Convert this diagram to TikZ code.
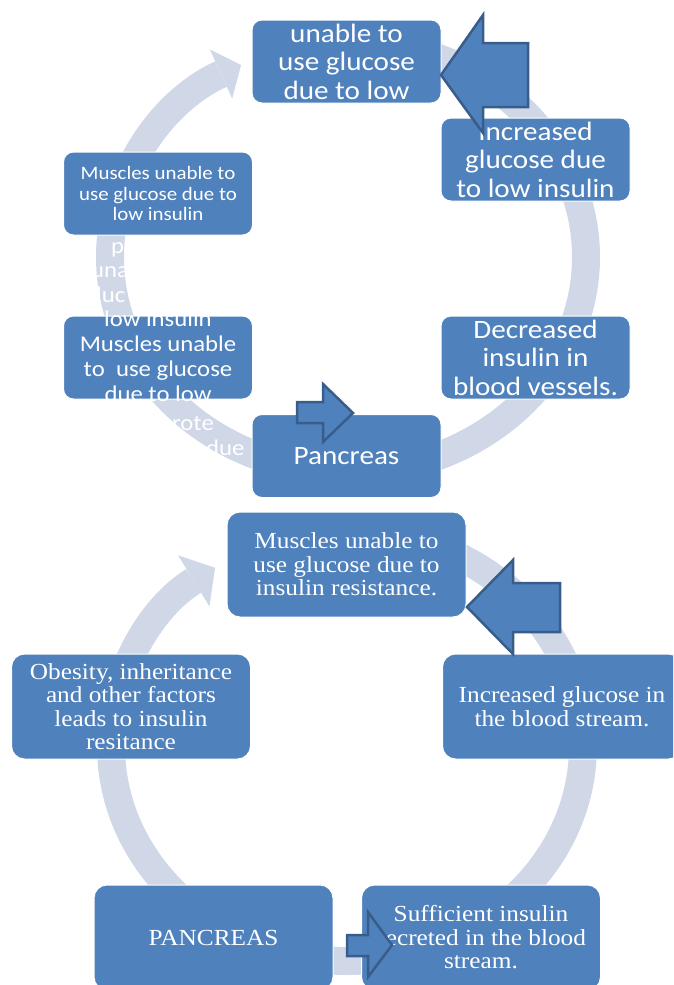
\documentclass[tikz,border=0pt]{standalone}
\usepackage{fontspec}
\usepackage{xcolor}
\usetikzlibrary{arrows.meta}

\newfontfamily\calfont[FakeStretch=1.1]{Carlito}
\newfontfamily\timesfont[FakeStretch=1.1]{Liberation Serif}

\definecolor{boxblue}{HTML}{4F81BD}
\definecolor{ringgray}{HTML}{D0D8E8}
\definecolor{edgeblue}{HTML}{385D8A}

\begin{document}
\begin{tikzpicture}[
  x=1pt, y=1pt,
  line join=round,
  topbox/.style={rectangle, rounded corners=10pt, fill=boxblue, draw=white,
    line width=1pt, text=white, align=center, inner sep=0pt,
    minimum width=189pt, minimum height=83pt,
    font=\calfont\fontsize{26.5}{28.5}\selectfont},
  lowbox/.style={rectangle, rounded corners=13pt, fill=boxblue, draw=white,
    line width=1pt, text=white, align=center, inner sep=0pt,
    minimum width=239pt, minimum height=105pt,
    font=\timesfont\fontsize{23}{23.5}\selectfont},
  ring/.style={color=ringgray, line width=28pt},
  blockarrow/.style={fill=boxblue, draw=edgeblue, line width=2.5pt, line join=miter},
  spill/.style={text=white, inner sep=0pt, align=center,
    font=\calfont\fontsize{22.5}{25}\selectfont}
]
  \useasboundingbox (0,0) rectangle (673,-985);
  \clip (0,0) rectangle (673,-985);

  % Upper cycle
  \draw[ring, -{Triangle[length=22pt,width=54pt,line width=0pt]}]
    (348,-42) arc[start angle=90, end angle=-243.3, x radius=238, y radius=215];

  \node[topbox] (unable) at (346.5,-61.5) {unable to\\use glucose\\due to low};
  \node[topbox] (incgl)  at (535.5,-159.5) {Increased\\glucose due\\to low insulin};
  \node[topbox] (decins) at (535.5,-357.5) {Decreased\\insulin in\\blood vessels.};
  \node[topbox] (panc)   at (346.5,-456) {Pancreas};
  \node[topbox] (lowbox) at (158,-357.5) {};
  \node[topbox, font=\calfont\fontsize{19}{20.5}\selectfont] (muscle) at (158,-193.5)
    {Muscles unable to\\use glucose due to\\low insulin};

  % text running out of the left box
  \node[spill] (lowtxt) at (158,-356.7) {low insulin\\Muscles unable\\to\ \ use glucose\\due to low};
  \node[spill, anchor=base west] (fragp)   at (111,-253) {p};
  \node[spill, anchor=base west] (fraguna) at (91,-277)  {una};
  \node[spill, anchor=base west] (fragluc) at (96,-302)  {luc};
  \node[spill, anchor=base west] (fragrot) at (172,-430) {rote};
  \node[spill, anchor=base west] (fragdue) at (206,-455) {due};

  \draw[blockarrow] (441,-75) -- (483,-15) -- (483,-43) -- (528,-43)
    -- (528,-107) -- (483,-107) -- (483,-133) -- cycle;
  \draw[blockarrow] (297,-402) -- (323,-402) -- (323,-384) -- (353,-413)
    -- (323,-442) -- (323,-423) -- (297,-423) -- cycle;

  % Lower cycle
  \draw[ring, -{Triangle[length=25pt,width=60pt,line width=0pt]}]
    (347,-531) arc[start angle=90, end angle=-236, x radius=236, y radius=215];

  \node[lowbox] (resist) at (346.5,-564.5) {Muscles unable to\\use glucose due to\\insulin resistance.};
  \node[lowbox] (obese)  at (131,-706.5) {Obesity, inheritance\\and other factors\\leads to insulin\\resitance};
  \node[lowbox] (incbs)  at (562,-706.5) {Increased glucose in\\the blood stream.};
  \node[lowbox] (pancr)  at (213.5,-937.5) {PANCREAS};
  \node[lowbox] (suff)   at (481,-937.5) {Sufficient insulin\\secreted in the blood\\stream.};

  \draw[blockarrow] (467,-607) -- (513,-560) -- (513,-583) -- (560,-583)
    -- (560,-632) -- (513,-632) -- (513,-654) -- cycle;
  \draw[blockarrow] (347,-935) -- (368,-935) -- (368,-912) -- (392,-945)
    -- (368,-977) -- (368,-956) -- (347,-956) -- cycle;
\end{tikzpicture}
\end{document}
